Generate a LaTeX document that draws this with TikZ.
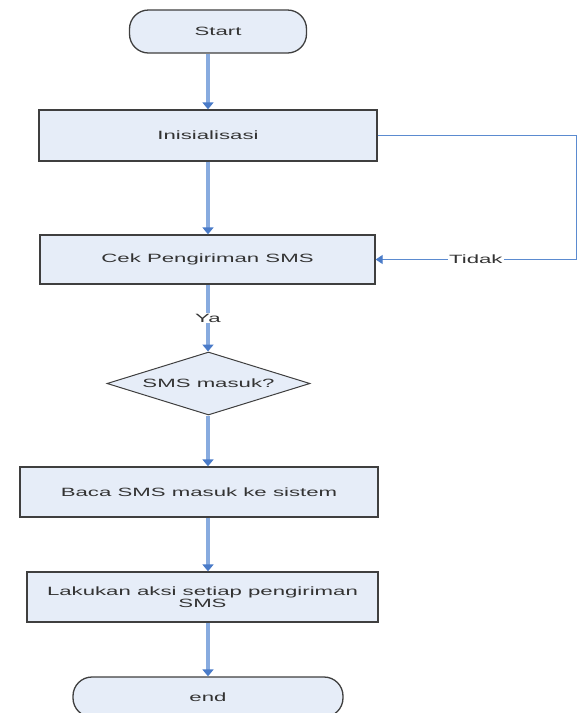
\documentclass[tikz,border=0pt]{standalone}
\usepackage{fontspec}
\setmainfont{Liberation Sans}[FakeStretch=1.85]
\usetikzlibrary{arrows.meta,shapes.geometric}
\definecolor{boxfill}{HTML}{E6EDF8}
\definecolor{boxdraw}{HTML}{3F3F3F}
\definecolor{flow}{HTML}{88ABDF}
\definecolor{tipc}{HTML}{4A7BC8}
\definecolor{loopc}{HTML}{5B8BD0}
\definecolor{txt}{HTML}{333333}
\begin{document}
\begin{tikzpicture}[x=1pt,y=-1pt,
  every node/.style={font=\fontsize{12}{12.5}\selectfont, text=txt},
  procbox/.style={draw=boxdraw, fill=boxfill, line width=1.3pt, rectangle, inner sep=0pt, align=center},
  termbox/.style={procbox, rounded corners=19pt},
  decbox/.style={draw=boxdraw, fill=boxfill, line width=1pt, diamond, inner sep=0pt, aspect=3.2},
  flowline/.style={draw=flow, line width=3.2pt, -{Triangle[width=11pt,length=7pt,color=tipc]}},
  loopline/.style={draw=loopc, line width=1pt, -{Triangle[width=9pt,length=7pt,color=tipc]}},
  lbl/.style={fill=white, inner sep=1pt}]
\useasboundingbox (0,0) rectangle (577,713);
\coordinate (col) at (208,0);
\coordinate (lr) at (576,0);
\node[termbox, minimum width=177pt, minimum height=43pt] (start) at (218,31.5) {Start};
\node[procbox, minimum width=338pt, minimum height=51pt] (ini) at (208,135.5) {Inisialisasi};
\node[procbox, minimum width=335pt, minimum height=49pt] (cek) at (207.5,259.5) {Cek Pengiriman SMS};
\node[decbox, minimum width=203pt, minimum height=63pt] (dec) at (208.5,383.5) {SMS masuk?};
\node[procbox, minimum width=358pt, minimum height=50pt] (baca) at (199,492) {Baca SMS masuk ke sistem};
\node[procbox, minimum width=351pt, minimum height=50pt] (aksi) at (202.5,597) {Lakukan aksi setiap pengiriman\\SMS};
\node[termbox, minimum width=270pt, minimum height=40pt] (end) at (208,697) {end};
\draw[flowline] (col |- start.south) -- (col |- ini.north);
\draw[flowline] (col |- ini.south) -- (col |- cek.north);
\draw[flowline] (col |- cek.south) -- node[lbl] {Ya} (col |- dec.north);
\draw[flowline] (col |- dec.south) -- (col |- baca.north);
\draw[flowline] (col |- baca.south) -- (col |- aksi.north);
\draw[flowline] (col |- aksi.south) -- (end.north);
\draw[loopline] (ini.east) -- (ini.east -| lr) -- (lr |- cek.east) -- node[lbl] {Tidak} (cek.east);
\end{tikzpicture}
\end{document}
